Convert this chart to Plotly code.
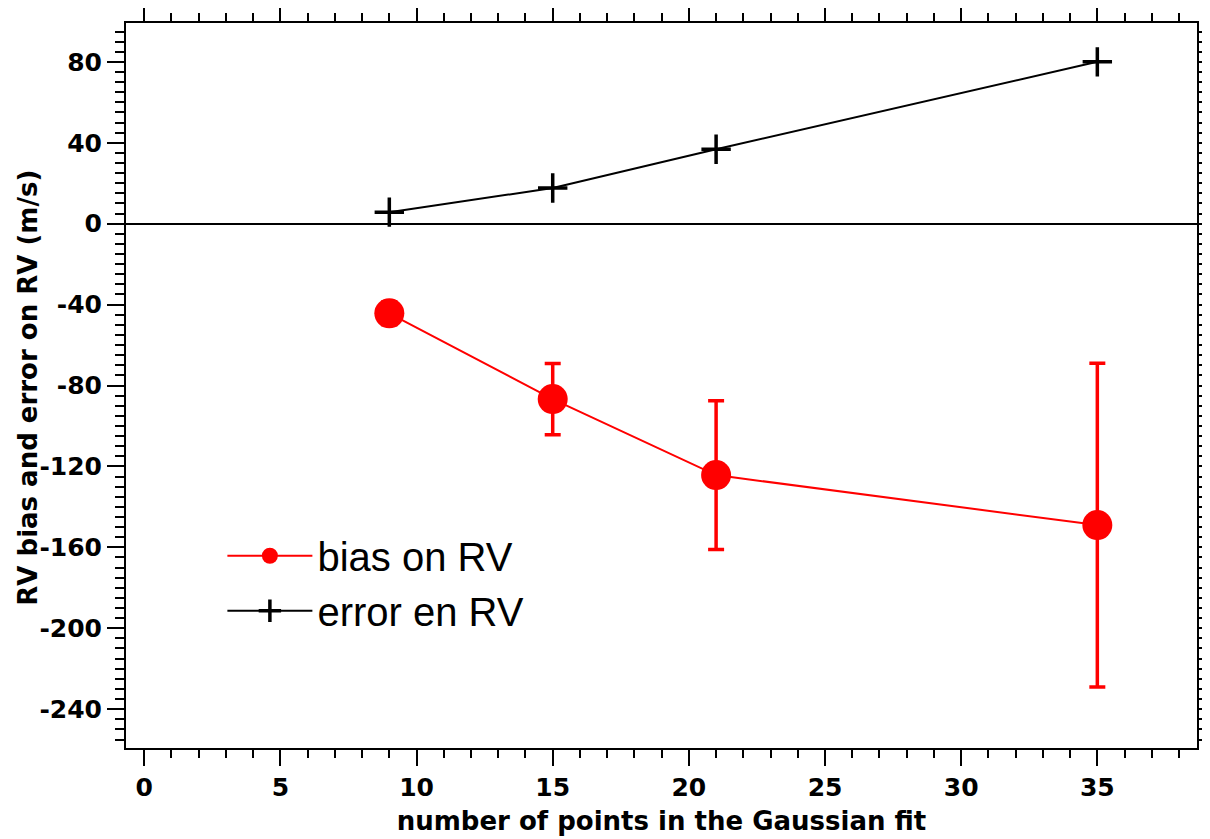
import plotly.graph_objects as go

# data
n_points = [9, 15, 21, 35]
bias_rv = [-44.3, -86.7, -124.3, -149.0]
error_rv = [5.7, 17.6, 36.8, 80.0]

x_tickvals = [0, 5, 10, 15, 20, 25, 30, 35]
y_tickvals = [80, 40, 0, -40, -80, -120, -160, -200, -240]
y_ticktext = ["80", "40", "0", "-40", "-80", "-120", "-160", "-200", "-240"]

fig = go.Figure()

fig.add_trace(go.Scatter(
    x=n_points, y=bias_rv, name="bias on RV", mode="lines+markers",
    line=dict(color="#ff0000", width=2),
    marker=dict(symbol="circle", size=30, color="#ff0000"),
    error_y=dict(type="data", array=error_rv, visible=True,
                 color="#ff0000", thickness=3.5, width=8),
))
fig.add_trace(go.Scatter(
    x=n_points, y=error_rv, name="error en RV", mode="lines+markers",
    line=dict(color="black", width=2),
    marker=dict(symbol="cross-thin", size=21, color="black",
                line=dict(color="black", width=3.5)),
))

tick_font = dict(family="DejaVu Sans", size=25, color="black", weight="bold")
title_font = dict(family="DejaVu Sans", size=26, color="black", weight="bold")

# the page body has an 8px margin, so the figure is sized to fit inside it
fig.update_layout(
    width=1202, height=831,
    margin=dict(l=118, r=13, t=15, b=91, autoexpand=False),
    paper_bgcolor="white", plot_bgcolor="white",
    showlegend=True,
    legend=dict(
        x=0.09, y=0.31, xanchor="left", yanchor="top",
        font=dict(family="Liberation Sans", size=40, color="black"),
        bgcolor="rgba(0,0,0,0)", itemwidth=85, tracegroupgap=0,
    ),
    xaxis=dict(
        range=[-0.67, 38.66], tickmode="array", tickvals=x_tickvals,
        ticks="outside", ticklen=16, tickwidth=2, tickcolor="black",
        showline=True, linecolor="black", linewidth=2, mirror="ticks",
        showgrid=False, zeroline=False, automargin=False,
        minor=dict(dtick=1, tick0=0, ticks="outside", ticklen=8,
                   tickwidth=2, tickcolor="black", showgrid=False),
        tickfont=tick_font,
        title=dict(text="number of points in the Gaussian fit",
                   font=title_font, standoff=11),
    ),
    yaxis=dict(
        range=[-259.2, 99.2], tickmode="array", tickvals=y_tickvals,
        ticktext=y_ticktext,
        ticks="outside", ticklen=17, tickwidth=2, tickcolor="black",
        showline=True, linecolor="black", linewidth=2, mirror="ticks",
        showgrid=False, zeroline=True, zerolinecolor="black",
        zerolinewidth=2, automargin=False,
        minor=dict(dtick=5, tick0=0, ticks="outside", ticklen=9,
                   tickwidth=2, tickcolor="black", showgrid=False),
        tickfont=tick_font,
    ),
    annotations=[dict(
        text="RV bias and error on RV (m/s)", textangle=-90,
        xref="paper", yref="paper", x=-0.0915, y=0.497,
        xanchor="center", yanchor="middle", showarrow=False,
        font=title_font,
    )],
)

fig.write_html("out.html")
